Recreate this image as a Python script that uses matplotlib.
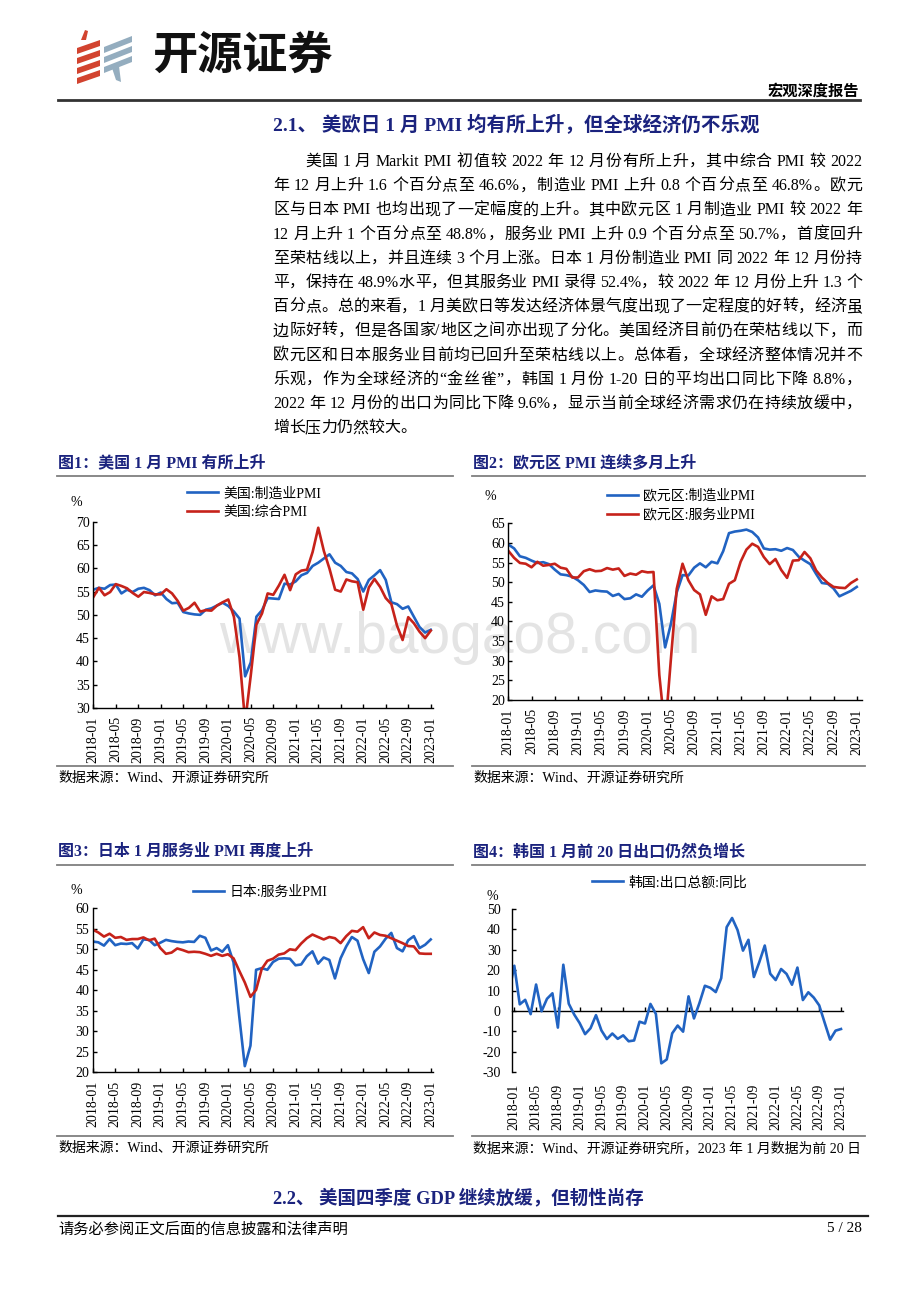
import re
import numpy as np
import pandas as pd
import matplotlib
matplotlib.use('Agg')
import matplotlib.pyplot as plt
from matplotlib.patches import Polygon
from matplotlib.lines import Line2D

plt.rcParams['axes.unicode_minus'] = False
FAM = ['Liberation Serif', 'Noto Sans CJK SC']
plt.rcParams['font.family'] = FAM

W, H = 920, 1302
NAVY = '#1B237E'
BLUE = '#2163C2'
RED = '#C6221A'
GRAY = '#7F7F7F'

# ---- data ----
months = pd.period_range('2018-01', '2023-01', freq='M').strftime('%Y-%m').tolist()
tick_pos = list(range(0, len(months), 4))
tick_lab = [months[i] for i in tick_pos]

us_mfg = [55.4, 55.8, 55.6, 56.4, 56.5, 54.6, 55.4, 54.9, 55.6, 55.8, 55.3, 54.2,
          54.8, 53.4, 52.5, 52.6, 50.6, 50.3, 50.1, 50.0, 51.1, 51.4, 52.0, 52.6,
          51.9, 50.7, 49.2, 36.8, 39.8, 49.6, 51.0, 53.6, 53.5, 53.4, 56.7, 56.5,
          57.2, 58.5, 59.0, 60.5, 61.2, 62.1, 63.0, 61.2, 60.5, 59.2, 58.9, 57.7,
          55.0, 57.5, 58.5, 59.6, 57.5, 52.7, 52.3, 51.3, 51.8, 49.6, 47.4, 46.2,
          46.8]
us_comp = [53.8, 55.8, 54.2, 54.9, 56.6, 56.2, 55.7, 54.7, 53.9, 54.9, 54.7, 54.4,
           54.4, 55.5, 54.6, 53.0, 50.9, 51.5, 52.6, 50.7, 51.0, 50.9, 52.0, 52.7,
           53.3, 49.6, 40.9, 27.0, 37.0, 47.9, 50.3, 54.6, 54.3, 56.3, 58.6, 55.3,
           58.7, 59.5, 59.7, 63.5, 68.7, 63.7, 59.9, 55.4, 55.0, 57.6, 57.2, 57.0,
           51.1, 55.9, 57.7, 56.0, 53.6, 52.3, 47.7, 44.6, 49.5, 48.2, 46.4, 45.0,
           46.6]
ez_mfg = [59.6, 58.6, 56.6, 56.2, 55.5, 54.9, 55.1, 54.6, 53.2, 52.0, 51.8, 51.4,
          50.5, 49.3, 47.5, 47.9, 47.7, 47.6, 46.5, 47.0, 45.7, 45.9, 46.9, 46.3,
          47.9, 49.2, 44.5, 33.4, 39.4, 47.4, 51.8, 51.7, 53.7, 54.8, 53.8, 55.2,
          54.8, 57.9, 62.5, 62.9, 63.1, 63.4, 62.8, 61.4, 58.6, 58.3, 58.4, 58.0,
          58.7, 58.2, 56.5, 55.5, 54.6, 52.1, 49.8, 49.6, 48.4, 46.4, 47.1, 47.8,
          48.8]
ez_srv = [58.0, 56.2, 54.9, 54.7, 53.8, 55.2, 54.2, 54.4, 54.7, 53.7, 53.4, 51.2,
          51.2, 52.8, 53.3, 52.8, 52.9, 53.6, 53.2, 53.5, 51.6, 52.2, 51.9, 52.8,
          52.5, 52.6, 26.4, 12.0, 30.5, 48.3, 54.7, 50.5, 48.0, 46.9, 41.7, 46.4,
          45.4, 45.7, 49.6, 50.5, 55.2, 58.3, 59.8, 59.0, 56.4, 54.6, 55.9, 53.1,
          51.1, 55.5, 55.6, 57.7, 56.1, 53.0, 51.2, 49.8, 48.8, 48.6, 48.5, 49.8,
          50.7]
jp_srv = [51.9, 51.7, 50.9, 52.5, 51.0, 51.4, 51.3, 51.5, 50.2, 52.4, 52.3, 51.0,
          51.6, 52.3, 52.0, 51.8, 51.7, 51.9, 51.8, 53.3, 52.8, 49.7, 50.3, 49.4,
          51.0, 46.8, 33.8, 21.5, 26.5, 45.0, 45.4, 45.0, 46.9, 47.7, 47.8, 47.7,
          46.1, 46.3, 48.3, 49.5, 46.5, 48.0, 47.4, 42.9, 47.8, 50.7, 53.0, 52.1,
          47.6, 44.2, 49.4, 50.7, 52.6, 54.0, 50.3, 49.5, 52.2, 53.2, 50.3, 51.1,
          52.4]
jp_mfg = [54.8, 54.1, 53.1, 53.8, 52.8, 53.0, 52.3, 52.5, 52.5, 52.9, 52.2, 52.6,
          50.3, 48.9, 49.2, 50.2, 49.8, 49.3, 49.4, 49.3, 48.9, 48.4, 48.9, 48.4,
          48.8, 47.8, 44.8, 41.9, 38.4, 40.1, 45.2, 47.2, 47.7, 48.7, 49.0, 50.0,
          49.8, 51.4, 52.7, 53.6, 53.0, 52.4, 53.0, 52.7, 51.5, 53.2, 54.5, 54.3,
          55.4, 52.7, 54.1, 53.5, 53.3, 52.7, 52.1, 51.5, 50.8, 50.7, 49.0, 48.9,
          48.9]
kr_months = ['2017-12'] + months
kr_export = [8.9,
             22.2, 3.3, 5.5, -1.5, 13.0, -0.1, 6.0, 8.7, -8.1, 22.7, 3.6, -1.7,
             -5.9, -11.3, -8.4, -2.0, -9.5, -13.7, -11.0, -13.6, -11.9, -14.8, -14.4, -5.2,
             -6.1, 3.5, -1.4, -25.6, -23.7, -10.9, -7.1, -10.1, 7.2, -3.6, 3.9, 12.4,
             11.4, 9.3, 16.1, 41.1, 45.6, 39.7, 29.6, 34.9, 16.7, 24.0, 32.1, 18.3,
             15.2, 20.6, 18.2, 12.9, 21.3, 5.4, 9.2, 6.6, 2.8, -5.7, -14.0, -9.6,
             -8.8]

para = [
    '美国 1 月 Markit PMI 初值较 2022 年 12 月份有所上升，其中综合 PMI 较 2022',
    '年 12 月上升 1.6 个百分点至 46.6%，制造业 PMI 上升 0.8 个百分点至 46.8%。欧元',
    '区与日本 PMI 也均出现了一定幅度的上升。其中欧元区 1 月制造业 PMI 较 2022 年',
    '12 月上升 1 个百分点至 48.8%，服务业 PMI 上升 0.9 个百分点至 50.7%，首度回升',
    '至荣枯线以上，并且连续 3 个月上涨。日本 1 月份制造业 PMI 同 2022 年 12 月份持',
    '平，保持在 48.9%水平，但其服务业 PMI 录得 52.4%，较 2022 年 12 月份上升 1.3 个',
    '百分点。总的来看，1 月美欧日等发达经济体景气度出现了一定程度的好转，经济虽',
    '边际好转，但是各国家/地区之间亦出现了分化。美国经济目前仍在荣枯线以下，而',
    '欧元区和日本服务业目前均已回升至荣枯线以上。总体看，全球经济整体情况并不',
    '乐观，作为全球经济的“金丝雀”，韩国 1 月份 1-20 日的平均出口同比下降 8.8%，',
    '2022 年 12 月份的出口为同比下降 9.6%，显示当前全球经济需求仍在持续放缓中，',
    '增长压力仍然较大。',
]

fig = plt.figure(figsize=(W / 100, H / 100), dpi=100)
renderer = fig.canvas.get_renderer()


def T(x, y, s, **kw):
    return fig.text(x / W, 1 - y / H, s, **kw)


def HL(x0, x1, y, color='black', lw=1.0):
    fig.add_artist(Line2D([x0 / W, x1 / W], [1 - y / H] * 2, color=color, lw=lw))


def poly(pts, color):
    fig.add_artist(Polygon([(x / W, 1 - y / H) for x, y in pts], closed=True,
                           transform=fig.transFigure, color=color, lw=0))


def justified(y, text, x0, x1, size, fill=True):
    toks = re.findall(r'[A-Za-z0-9.%/\-]+| |.', text)
    em = size * 100 / 72
    sw = 0.25 * em
    items = []
    for tok in toks:
        if tok == ' ':
            items.append((None, sw))
            continue
        t = T(0, y, tok, fontsize=size, va='baseline', ha='left')
        if ord(tok[0]) > 0x2E80:
            w = em
        else:
            w = t.get_window_extent(renderer).width
        items.append((t, w))
    n = sum(1 for t, _ in items if t is not None)
    total = sum(w for _, w in items)
    extra = (x1 - x0 - total) / (n - 1) if fill and n > 1 else 0
    x = x0
    for t, w in items:
        if t is None:
            x += w
        else:
            t.set_x(x / W)
            x += w + extra


# ---- header ----
for i in range(4):
    yy = 44 + 10 * i
    poly([(77, yy + 4), (100, yy - 4), (100, yy + 2), (77, yy + 10)], '#D2432F')
poly([(81, 40), (85, 30), (88, 31), (86, 40)], '#D2432F')
for i in range(3):
    yy = 44 + 10 * i
    poly([(104, yy + 3), (132, yy - 8), (132, yy - 2), (104, yy + 9)], '#94ADBF')
poly([(112, 68), (119, 66), (121, 82), (116, 80)], '#94ADBF')
T(152, 56, '开源证券', fontsize=32.5, family='Noto Sans CJK SC', weight='bold',
  va='center', ha='left', color='#111111')
T(859, 91, '宏观深度报告', fontsize=11, weight='bold', ha='right', va='center')
HL(58, 860, 100, '#333333', 2.0)

# ---- section text ----
T(273, 125, '2.1、 美欧日 1 月 PMI 均有所上升，但全球经济仍不乐观', fontsize=14,
  weight='bold', color=NAVY, va='center')
for k, line in enumerate(para):
    xs = 305 if k == 0 else 273
    justified(166 + 24.2 * k, line, xs, 862, 11.5, fill=(k < len(para) - 1))

# watermark
T(460, 653, 'www.baogao8.com', fontsize=41, family='Liberation Sans',
  color='#E4E4E4', ha='center', va='baseline', zorder=-1)


def px_ax(l, t, r, b):
    return fig.add_axes([l / W, 1 - b / H, (r - l) / W, (b - t) / H])


def style(ax, ylo, yhi, ystep, xlo, xhi, ypad=2.5, xpad=6):
    ax.set_xlim(xlo, xhi)
    ax.set_ylim(ylo, yhi)
    ax.set_yticks(np.arange(ylo, yhi + 1, ystep))
    ax.set_xticks(tick_pos)
    ax.set_xticklabels(tick_lab, rotation=90)
    for s in ['top', 'right']:
        ax.spines[s].set_visible(False)
    for s in ['left', 'bottom']:
        ax.spines[s].set_linewidth(1.0)
    ax.tick_params(direction='in', length=3, width=1, labelsize=10)
    ax.tick_params(axis='y', pad=ypad)
    ax.tick_params(axis='x', pad=xpad)
    ax.patch.set_alpha(0)


def legend(ax, x, y):
    ax.legend(loc='upper left', bbox_to_anchor=(x / W, 1 - y / H),
              bbox_transform=fig.transFigure, frameon=False, borderpad=0,
              borderaxespad=0, handlelength=2.2, handletextpad=0.4,
              labelspacing=0.4, fontsize=10)


def frame(x0, x1, ytitle, title, ysrc, src):
    T(x0 + 1, ytitle, title, fontsize=11.5, weight='bold', color=NAVY, va='center')
    HL(x0, x1, ytitle + 13, GRAY, 1.3)
    HL(x0, x1, ysrc - 12, GRAY, 1.3)
    T(x0 + 1, ysrc, src, fontsize=10, va='center')


src = '数据来源：Wind、开源证券研究所'
frame(57, 453, 463, '图1：美国 1 月 PMI 有所上升', 778, src)
frame(472, 865, 463, '图2：欧元区 PMI 连续多月上升', 778, src)
frame(57, 453, 852, '图3：日本 1 月服务业 PMI 再度上升', 1148, src)
frame(472, 865, 852, '图4：韩国 1 月前 20 日出口仍然负增长', 1148,
      src + '，2023 年 1 月数据为前 20 日')

x = np.arange(len(months))
lw = 1.9

# chart 1
ax1 = px_ax(93.3, 521.7, 432.7, 708)
ax1.plot(x, us_mfg, color=BLUE, lw=lw, label='美国:制造业PMI')
ax1.plot(x, us_comp, color=RED, lw=lw, label='美国:综合PMI')
style(ax1, 30, 70, 5, 0, 60.35)
legend(ax1, 187, 487)
T(76, 502, '%', fontsize=10, ha='center', va='center')

# chart 2
ax2 = px_ax(508.3, 523.3, 862, 700)
ax2.plot(x, ez_mfg, color=BLUE, lw=lw, label='欧元区:制造业PMI')
ax2.plot(x, ez_srv, color=RED, lw=lw, label='欧元区:服务业PMI')
style(ax2, 20, 65, 5, 0, 60.9)
legend(ax2, 607, 489)
T(490, 497, '%', fontsize=10, ha='center', va='center')

# chart 3
ax3 = px_ax(92.7, 908.3, 432.7, 1072.3)
ax3.plot(x, jp_srv, color=BLUE, lw=lw, label='日本:服务业PMI')
ax3.plot(x, jp_mfg, color=RED, lw=lw)
style(ax3, 20, 60, 5, 0, 60.35)
legend(ax3, 193, 886)
T(76, 891, '%', fontsize=10, ha='center', va='center')

# chart 4
ax4 = px_ax(511.7, 909, 843, 1072.3)
xk = np.arange(-1, len(months))
ax4.plot(xk, kr_export, color=BLUE, lw=lw, label='韩国:出口总额:同比')
style(ax4, -30, 50, 10, -0.48, 60.37, ypad=8, xpad=8)
ax4.spines['bottom'].set_visible(False)
ax4.tick_params(axis='x', length=0)
sec = ax4.secondary_xaxis(0.375)
sec.set_xticks(tick_pos)
sec.tick_params(direction='in', length=3, width=1, labelbottom=False)
sec.spines['bottom'].set_linewidth(1.0)
legend(ax4, 592, 876)
T(492, 896, '%', fontsize=10, ha='center', va='center')

# ---- footer ----
T(273, 1198, '2.2、 美国四季度 GDP 继续放缓，但韧性尚存', fontsize=13.3,
  weight='bold', color=NAVY, va='center')
HL(58, 868, 1216, '#222222', 1.6)
T(58, 1229, '请务必参阅正文后面的信息披露和法律声明', fontsize=11, va='center')
T(862, 1229, '5 / 28', fontsize=11, va='center', ha='right')

fig.savefig('out.png', dpi=100, facecolor='white')
